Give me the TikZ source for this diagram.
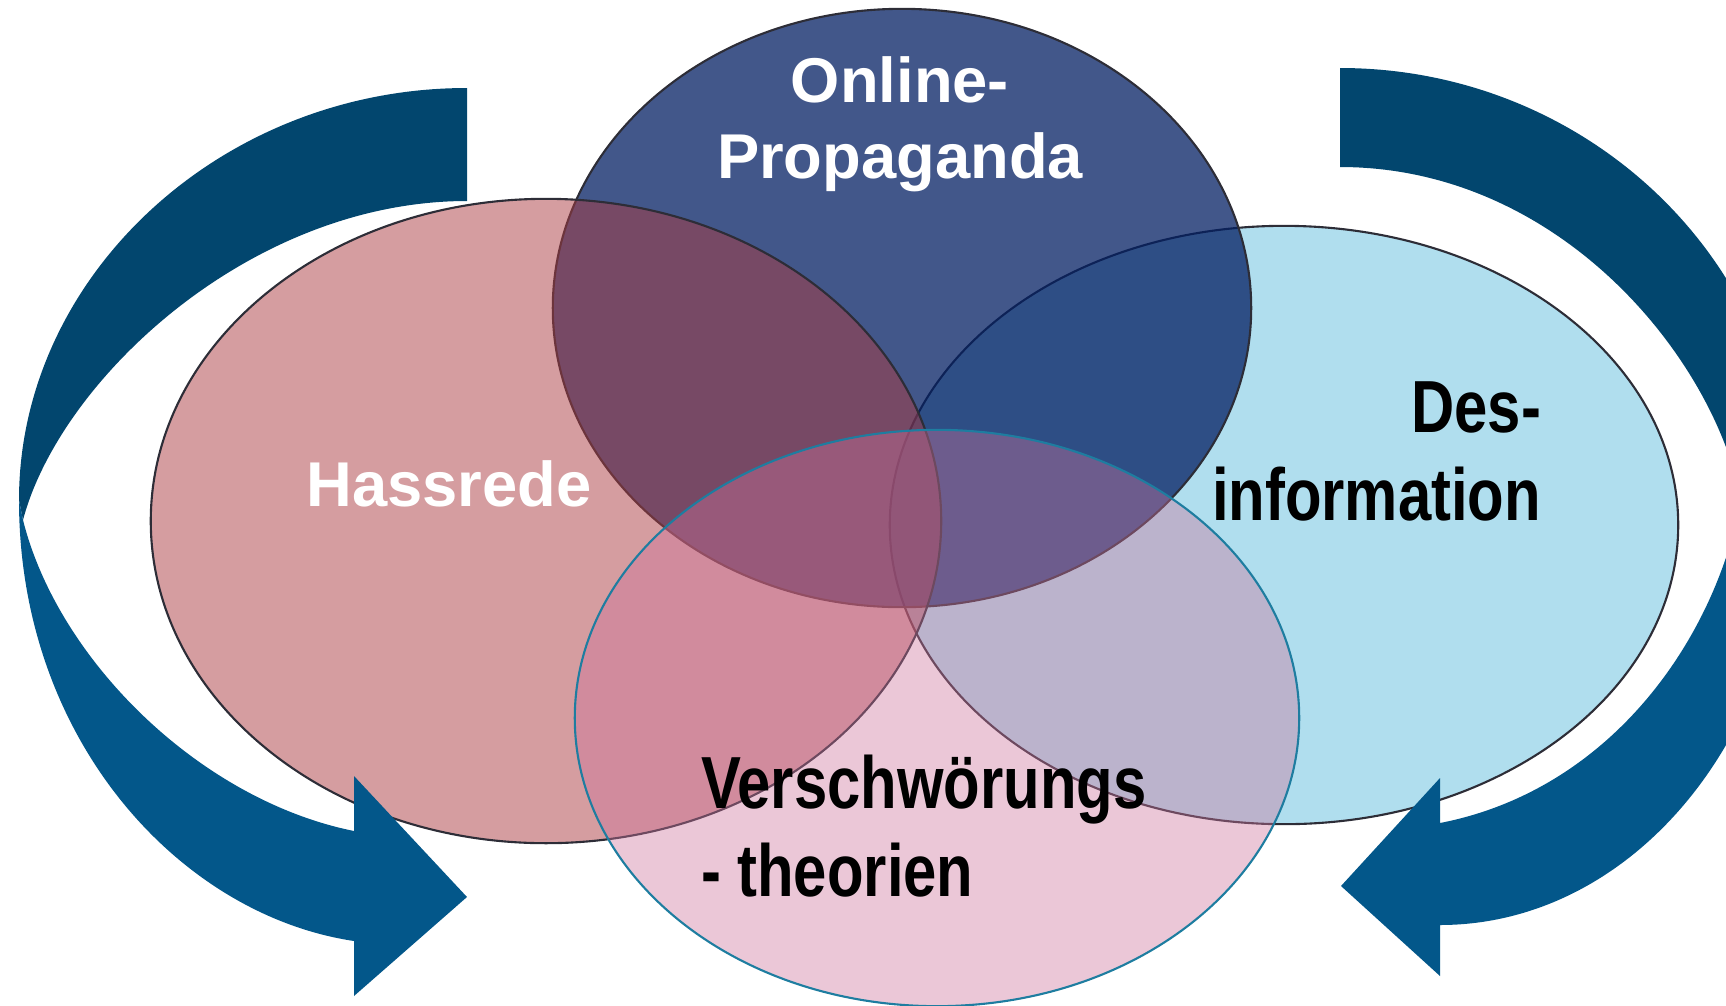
\documentclass[tikz,border=0pt]{standalone}
\usepackage{fontspec}
\setmainfont{Liberation Sans}
\newfontfamily\narrowfont[FakeStretch=0.81]{Liberation Sans}
\usepackage{tikz}
\usetikzlibrary{shapes.geometric}
\usetikzlibrary{positioning}

\definecolor{hasscol}{RGB}{171,59,65}
\definecolor{propcol}{RGB}{3,31,99}
\definecolor{desinfocol}{RGB}{176,222,238}
\definecolor{verschcol}{RGB}{205,115,155}
\definecolor{verschline}{RGB}{30,125,160}
\definecolor{rimcol}{RGB}{45,45,55}
\definecolor{bandback}{RGB}{2,70,110}
\definecolor{bandfront}{RGB}{3,87,138}

\begin{document}
\begin{tikzpicture}
[x=0.01cm,y=-0.01cm,every node/.style={inner sep=0pt,outer sep=0pt},
 blob/.style={ellipse,draw=rimcol,line width=0.6pt},
 whitetext/.style={text=white,font=\fontsize{18}{21.6}\selectfont\bfseries},
 blacktext/.style={text=black,font=\narrowfont\fontsize{21}{25}\selectfont\bfseries},
 backband/.style={fill=bandback},
 frontband/.style={fill=bandfront}]

\clip (0,0) rectangle (1726,1005);

% the four circles
\node[blob,fill=desinfocol,minimum width=7.88cm,minimum height=5.98cm] (desinfo) at (1284,525) {};
\node[blob,fill=propcol,fill opacity=0.75,minimum width=6.98cm,minimum height=5.98cm] (prop) at (902,308) {};
\node[blob,fill=hasscol,fill opacity=0.5,minimum width=7.90cm,minimum height=6.44cm] (hass) at (546,521) {};
\node[blob,draw=verschline,fill=verschcol,fill opacity=0.4,minimum width=7.24cm,minimum height=5.76cm] (versch) at (937,718) {};

% left ribbon arrow
\fill[backband] (467,88) .. controls (220,88) and (19,277) .. (19,500) -- (23,520) .. controls (60,380) and (250,201) .. (467,201) -- cycle;
\fill[frontband] (19,500) .. controls (19,740) and (180,915) .. (354,941) -- (354,996) -- (467,897) -- (354,776) -- (354,831) .. controls (200,800) and (58,660) .. (23,520) -- cycle;

% right ribbon arrow
\fill[backband] (1340,68) .. controls (1588,68) and (1790,262) .. (1790,500) -- (1741,500) .. controls (1715,360) and (1561,167) .. (1340,167) -- cycle;
\fill[frontband] (1790,500) .. controls (1790,735) and (1633,925) .. (1440,925) -- (1440,976) -- (1341,886) -- (1440,778) -- (1440,823) .. controls (1610,790) and (1715,640) .. (1741,500) -- cycle;

% labels
\node[whitetext] (hasstext) at (449,484) {Hassrede};
\node[whitetext,align=center] (proptext) at (900,124) {Online-\\Propaganda};
\node[blacktext,align=right,anchor=east] (desinfotext) at (1541,451) {Des-\\information};
\node[blacktext,align=left,anchor=west] (verschtext) at (701,826) {Verschwörungs\\- theorien};

\end{tikzpicture}
\end{document}
